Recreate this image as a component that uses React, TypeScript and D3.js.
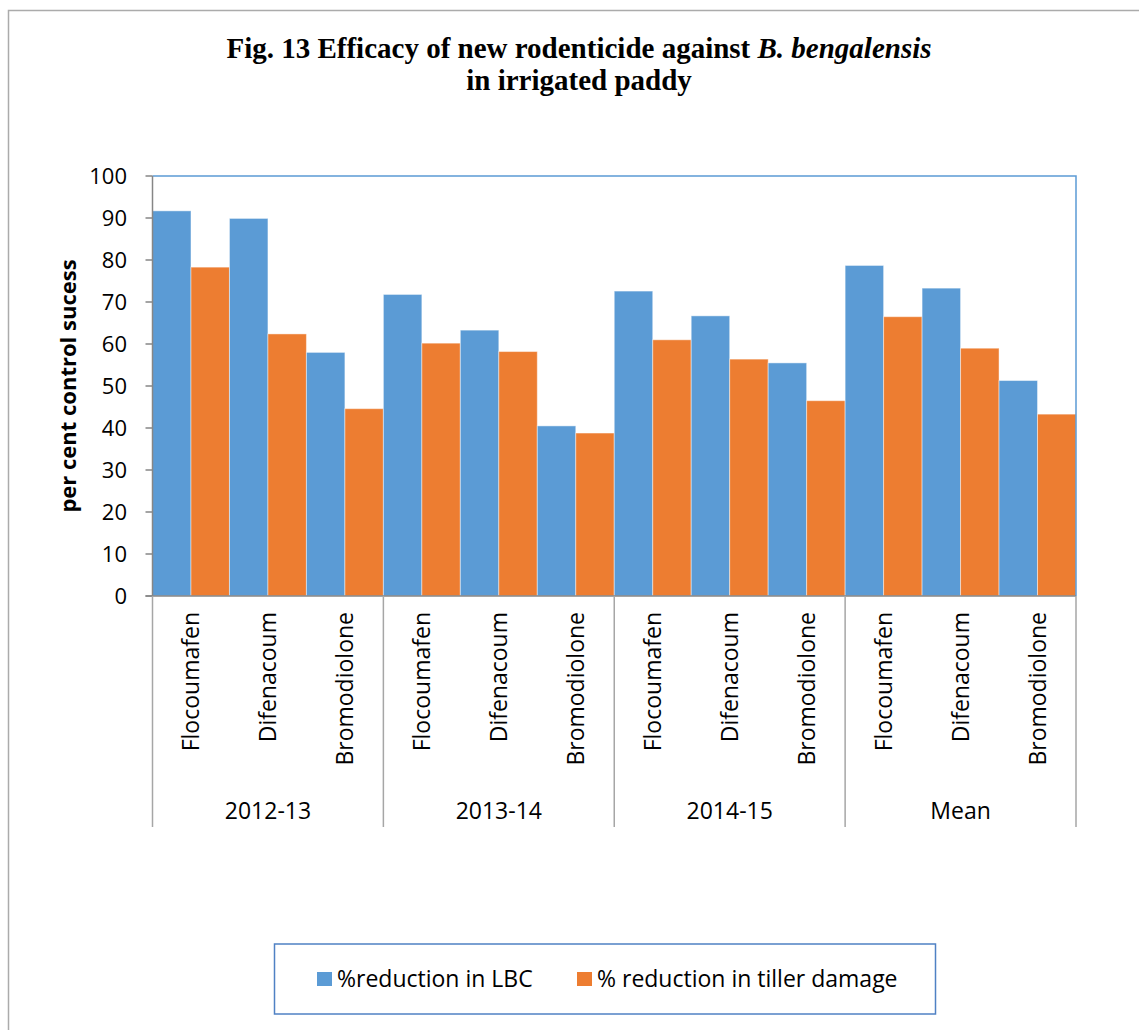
import React from "react";
import * as d3 from "d3";

// Seasons (outer axis level) and treatments (inner axis level)
const years = ["2012-13", "2013-14", "2014-15", "Mean"];
const rodenticides = ["Flocoumafen", "Difenacoum", "Bromodiolone"];

// Per cent control success, in year order, treatments within each year
const lbcReduction = [91.7, 89.9, 58.0, 71.8, 63.3, 40.5, 72.6, 66.7, 55.5, 78.7, 73.3, 51.3];
const tillerReduction = [78.3, 62.4, 44.6, 60.2, 58.2, 38.8, 61.0, 56.4, 46.5, 66.5, 59.0, 43.3];

const seriesNames = ["%reduction in LBC", "% reduction in tiller damage"];
const seriesColors = ["#5B9BD5", "#ED7D31"];
const yTicks = [0, 10, 20, 30, 40, 50, 60, 70, 80, 90, 100];

const W = 1139;
const H = 1030;
const plot = { left: 152.5, right: 1076, top: 176, bottom: 596 };
const axisBottom = 827;
const sansFont = "'Open Sans', 'Noto Sans', sans-serif";
const serifFont = "'Liberation Serif', 'Times New Roman', serif";

type Row = { key: string; year: string; drug: string; values: number[] };

const rows: Row[] = [];
years.forEach((year, yi) => {
  rodenticides.forEach((drug, di) => {
    const i = yi * rodenticides.length + di;
    rows.push({ key: `${year}|${drug}`, year, drug, values: [lbcReduction[i], tillerReduction[i]] });
  });
});

export default function App() {
  const x = d3
    .scaleBand<string>()
    .domain(rows.map((r) => r.key))
    .range([plot.left, plot.right])
    .paddingInner(0)
    .paddingOuter(0);
  const inner = d3
    .scaleBand<number>()
    .domain([0, 1])
    .range([0, x.bandwidth()])
    .padding(0);
  const y = d3.scaleLinear().domain([0, 100]).range([plot.bottom, plot.top]);

  const groupWidth = x.bandwidth() * rodenticides.length;
  const groupStart = (yi: number) => x(rows[yi * rodenticides.length].key) as number;

  return (
    <svg
      width={W}
      height={H}
      style={{ position: "absolute", left: 0, top: 0, background: "#fff" }}
    >
      {/* chart frame */}
      <rect x={8.5} y={10.5} width={W + 20} height={H + 20} fill="#fff" stroke="#ABABAB" strokeWidth={1.5} />

      {/* title */}
      <text x={579} y={58} textAnchor="middle" fontFamily={serifFont} fontWeight="bold" fontSize={29} fill="#000">
        Fig. 13 Efficacy of new rodenticide against <tspan fontStyle="italic">B. bengalensis</tspan>
      </text>
      <text x={579} y={90} textAnchor="middle" fontFamily={serifFont} fontWeight="bold" fontSize={29} fill="#000">
        in irrigated paddy
      </text>

      {/* bars */}
      {rows.map((r) =>
        r.values.map((v, si) => (
          <rect
            key={`${r.key}-${si}`}
            x={(x(r.key) as number) + (inner(si) as number)}
            y={y(v)}
            width={inner.bandwidth()}
            height={y(0) - y(v)}
            fill={seriesColors[si]}
            stroke="#ffffff"
            strokeOpacity={0.45}
            strokeWidth={1}
          />
        ))
      )}

      {/* plot area border (top and right) */}
      <path
        d={`M${plot.left},${plot.top}H${plot.right}V${plot.bottom}`}
        fill="none"
        stroke="#5B9BD5"
        strokeWidth={1.5}
      />

      {/* y axis */}
      <line x1={plot.left} x2={plot.left} y1={plot.top} y2={plot.bottom} stroke="#868686" strokeWidth={1.5} />
      {yTicks.map((t) => (
        <g key={t}>
          <line x1={plot.left - 7} x2={plot.left} y1={y(t)} y2={y(t)} stroke="#868686" strokeWidth={1.5} />
          <text
            x={127}
            y={y(t)}
            dy="0.36em"
            textAnchor="end"
            fontFamily={sansFont}
            fontSize={22}
            fill="#000"
          >
            {t}
          </text>
        </g>
      ))}
      <text
        transform={`translate(68,${(plot.top + plot.bottom) / 2}) rotate(-90)`}
        textAnchor="middle"
        dy="0.36em"
        fontFamily={sansFont}
        fontWeight="bold"
        fontSize={22}
        fill="#000"
      >
        per cent control sucess
      </text>

      {/* category axis baseline */}
      <line x1={plot.left - 7} x2={plot.right} y1={plot.bottom} y2={plot.bottom} stroke="#868686" strokeWidth={1.5} />

      {/* group dividers */}
      {years.map((yr, yi) => (
        <line
          key={`div-${yr}`}
          x1={groupStart(yi)}
          x2={groupStart(yi)}
          y1={plot.bottom}
          y2={axisBottom}
          stroke="#A6A6A6"
          strokeWidth={1.5}
        />
      ))}
      <line x1={plot.right} x2={plot.right} y1={plot.bottom} y2={axisBottom} stroke="#A6A6A6" strokeWidth={1.5} />

      {/* treatment labels */}
      {rows.map((r) => (
        <text
          key={`lab-${r.key}`}
          transform={`translate(${(x(r.key) as number) + x.bandwidth() / 2},612) rotate(-90)`}
          textAnchor="end"
          dy="0.36em"
          fontFamily={sansFont}
          fontSize={23}
          fill="#000"
        >
          {r.drug}
        </text>
      ))}

      {/* season labels */}
      {years.map((yr, yi) => (
        <text
          key={`yr-${yr}`}
          x={groupStart(yi) + groupWidth / 2}
          y={819}
          textAnchor="middle"
          fontFamily={sansFont}
          fontSize={23}
          fill="#000"
        >
          {yr}
        </text>
      ))}

      {/* legend */}
      <rect x={274.5} y={944} width={661} height={70} fill="#fff" stroke="#4F81C4" strokeWidth={1.5} />
      {seriesNames.map((name, i) => {
        const lx = i === 0 ? 317 : 577;
        return (
          <g key={name}>
            <rect x={lx} y={972} width={15} height={14} fill={seriesColors[i]} />
            <text x={lx + 20} y={987} fontFamily={sansFont} fontSize={23} fill="#000">
              {name}
            </text>
          </g>
        );
      })}
    </svg>
  );
}
